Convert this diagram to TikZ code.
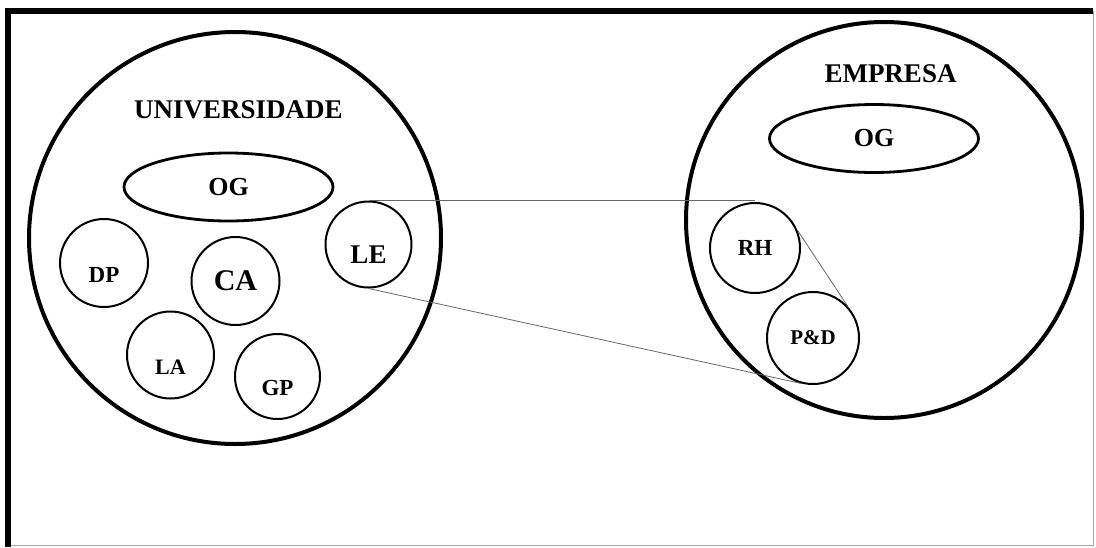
\documentclass[tikz,border=0pt]{standalone}
\usepackage{fontspec}
\setmainfont{Liberation Serif}
\usetikzlibrary{shapes.geometric, positioning}

\tikzset{
  org/.style={circle, draw, line width=4pt, inner sep=0pt},
  title/.style={font=\bfseries\fontsize{27}{29}\selectfont},
  og/.style={ellipse, draw, line width=2.8pt, minimum width=209pt, minimum height=68pt,
             font=\bfseries\fontsize{26}{28}\selectfont},
  unit/.style={circle, draw, line width=2pt, inner sep=0pt,
               font=\bfseries\fontsize{23}{25}\selectfont},
  tag/.style={inner sep=0pt, font=\bfseries\fontsize{23}{25}\selectfont},
  link/.style={draw=black!60, line width=0.8pt},
}

\begin{document}
\begin{tikzpicture}[x=1pt, y=-1pt]
\useasboundingbox (0,0) rectangle (1096,547);

% frame: heavy top and left, thin right and bottom
\draw[gray!70, line width=1pt] (1093,11) -- (1093,545.5) -- (8,545.5);
\draw[line width=6pt] (8,547) -- (8,11) -- (1093,11);

% university
\node[org, minimum size=412pt] (univ) at (235,238) {};
\node[title] (univname) at (238.5,110) {UNIVERSIDADE};
\node[og] (og1) at (228.5,187) {OG};

\node[unit, minimum size=88pt] (dp) at (104,263) {};
\node[tag] (dptxt) at ([yshift=-12pt]dp.center) {DP};
\node[unit, minimum size=88pt, font=\bfseries\fontsize{30}{32}\selectfont] (ca) at (235.5,281) {CA};
\node[unit, minimum size=87pt] (la) at (170.5,355) {};
\node[tag, font=\bfseries\fontsize{22}{24}\selectfont] (latxt) at ([yshift=-12pt]la.center) {LA};
\node[unit, minimum size=85pt] (gp) at (277.5,376.5) {};
\node[tag] (gptxt) at ([yshift=-11.5pt]gp.center) {GP};
\node[unit, minimum size=86pt] (le) at (368.5,244.5) {};
\node[tag, font=\bfseries\fontsize{27}{29}\selectfont] (letxt) at ([yshift=-10pt]le.center) {LE};

% company
\node[org, minimum size=396pt] (emp) at (884,220) {};
\node[title] (empname) at (890.5,74) {EMPRESA};
\node[og] (og2) at (874,138.5) {OG};

\node[unit, minimum size=90pt] (rh) at (755,248) {RH};
\node[unit, minimum size=92pt, font=\bfseries\fontsize{21}{23}\selectfont] (pd) at (813,338) {P\&D};

% zoom lines
\draw[link] (le.north) -- (le.north -| rh.north);
\draw[link] (le.south) -- (pd.255);
\draw[link] (rh.23) -- (pd.42);
\end{tikzpicture}
\end{document}
